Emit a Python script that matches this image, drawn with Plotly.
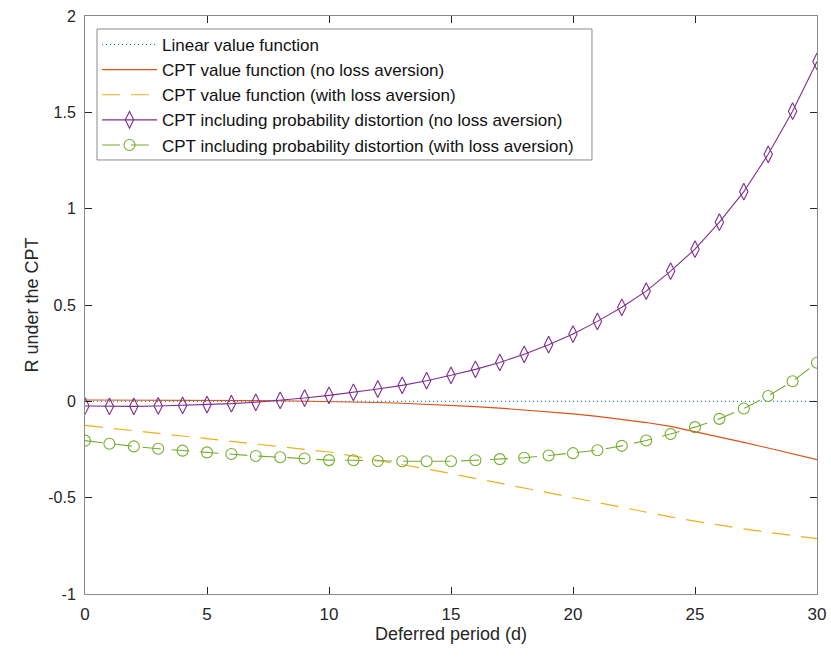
import plotly.graph_objects as go

days = list(range(0, 31))

linear_vf = [0.0] * 31

cpt_no_la = [0.007, 0.007, 0.007, 0.007, 0.006, 0.006, 0.005, 0.004, 0.003, 0.001,
             0.0, -0.003, -0.006, -0.010, -0.015, -0.020, -0.027, -0.035, -0.044, -0.054,
             -0.065, -0.078, -0.093, -0.110, -0.130, -0.157, -0.185, -0.213, -0.242, -0.272,
             -0.303]

cpt_la = [-0.125, -0.138, -0.152, -0.166, -0.180, -0.194, -0.208, -0.222, -0.236, -0.250,
          -0.263, -0.284, -0.305, -0.328, -0.351, -0.375, -0.400, -0.426, -0.452, -0.478,
          -0.503, -0.528, -0.552, -0.576, -0.600, -0.622, -0.643, -0.662, -0.680, -0.697,
          -0.713]

cpt_pd_no_la = [-0.024, -0.026, -0.026, -0.024, -0.021, -0.017, -0.012, -0.005, 0.005, 0.017,
                0.031, 0.047, 0.064, 0.083, 0.107, 0.135, 0.166, 0.202, 0.244, 0.294,
                0.349, 0.415, 0.488, 0.572, 0.676, 0.790, 0.930, 1.088, 1.282, 1.506,
                1.764]

cpt_pd_la = [-0.204, -0.220, -0.234, -0.246, -0.256, -0.265, -0.273, -0.284, -0.290, -0.297,
             -0.305, -0.306, -0.310, -0.311, -0.311, -0.311, -0.306, -0.300, -0.293, -0.281,
             -0.269, -0.254, -0.231, -0.203, -0.170, -0.134, -0.091, -0.037, 0.028, 0.104,
             0.200]

names = ["Linear value function",
         "CPT value function (no loss aversion)",
         "CPT value function (with loss aversion)",
         "CPT including probability distortion (no loss aversion)",
         "CPT including probability distortion (with loss aversion)"]

x_ticks = [0, 5, 10, 15, 20, 25, 30]
y_ticks = [-1, -0.5, 0, 0.5, 1, 1.5, 2]
y_tick_text = ["-1", "-0.5", "0", "0.5", "1", "1.5", "2"]

FONT = "Liberation Sans, Arial, sans-serif"

fig = go.Figure()
fig.add_trace(go.Scatter(x=days, y=linear_vf, mode="lines", name=names[0],
                         line=dict(color="#0072BD", width=1, dash="1px,3px")))
fig.add_trace(go.Scatter(x=days, y=cpt_no_la, mode="lines", name=names[1],
                         line=dict(color="#D95319", width=1.2)))
fig.add_trace(go.Scatter(x=days, y=cpt_la, mode="lines", name=names[2],
                         line=dict(color="#EDB120", width=1.2, dash="18px,11px")))
fig.add_trace(go.Scatter(x=days, y=cpt_pd_no_la, mode="lines+markers", name=names[3],
                         line=dict(color="#7E2F8E", width=1.1),
                         marker=dict(symbol="diamond-tall-open", size=12,
                                     color="#7E2F8E", line=dict(width=1.1, color="#7E2F8E"))))
fig.add_trace(go.Scatter(x=days, y=cpt_pd_la, mode="lines+markers", name=names[4],
                         line=dict(color="#77AC30", width=1.1, dash="18px,11px"),
                         marker=dict(symbol="circle-open", size=11,
                                     color="#77AC30", line=dict(width=1.1, color="#77AC30"))))

axis_common = dict(showgrid=False, zeroline=False, showline=True, mirror="ticks",
                   linecolor="#8a8a8a", linewidth=1, ticks="inside", ticklen=7,
                   tickcolor="#262626", tickwidth=1, automargin=False)

fig.update_xaxes(range=[0, 30], tickvals=x_ticks, ticktext=[str(v) for v in x_ticks],
                 tickfont=dict(family=FONT, size=17, color="#262626"),
                 ticklabelstandoff=5,
                 title=dict(text="Deferred period (d)", font=dict(family=FONT, size=18, color="#262626"),
                            standoff=2),
                 **axis_common)
fig.update_yaxes(range=[-1, 2], tickvals=y_ticks, ticktext=y_tick_text,
                 tickfont=dict(family=FONT, size=16, color="#262626"),
                 ticklabelstandoff=5,
                 title=dict(text="R under the CPT", font=dict(family=FONT, size=18, color="#262626"),
                            standoff=4),
                 **axis_common)

# legend frame (layout decoration, paper coordinates)
fig.add_shape(type="rect", xref="paper", yref="paper",
              x0=0.0164, x1=0.6926, y0=0.7509, y1=0.9775,
              line=dict(color="#8a8a8a", width=1), fillcolor="white", layer="below")

fig.update_layout(
    width=831, height=660,
    margin=dict(l=85, r=14, t=16, b=66),
    paper_bgcolor="white", plot_bgcolor="white",
    font=dict(family=FONT, size=16, color="#262626"),
    legend=dict(x=0.0164, y=0.981, xanchor="left", yanchor="top",
                bgcolor="rgba(0,0,0,0)", borderwidth=0,
                font=dict(family=FONT, size=17, color="#111111"),
                itemwidth=55, tracegroupgap=0),
    showlegend=True,
)

fig.write_html("out.html")
